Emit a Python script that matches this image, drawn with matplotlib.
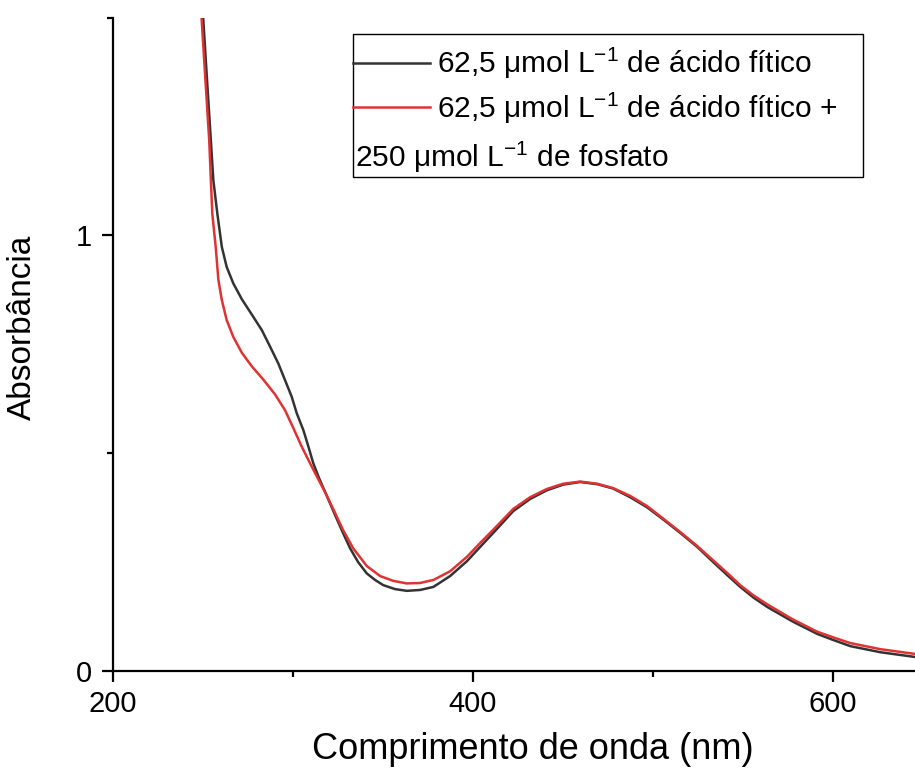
import matplotlib
matplotlib.use("Agg")
import matplotlib.pyplot as plt
from matplotlib.patches import Rectangle
from matplotlib.ticker import MultipleLocator

plt.rcParams['font.family'] = ['Liberation Sans', 'DejaVu Sans']
plt.rcParams['mathtext.fontset'] = 'custom'
plt.rcParams['mathtext.rm'] = 'Liberation Sans'
plt.rcParams['mathtext.it'] = 'Liberation Sans:italic'

# espectros UV-Vis: comprimento de onda (nm) e absorbância
nm_fitico = [249.3, 250.3, 251.7, 253.1, 254.5, 255.9, 258.1, 260.6, 263.3, 267.0,
             271.7, 277.2, 282.8, 287.4, 292.0, 295.7, 299.4, 302.2, 305.9, 308.7,
             311.4, 314.6, 318.5, 323.5, 327.9, 331.8, 336.3, 341.1, 345.7, 350.3,
             356.8, 363.3, 370.7, 378.1, 387.4, 396.7, 404.1, 412.9, 422.4, 431.8,
             441.1, 450.2, 459.6, 469.1, 477.9, 487.4, 496.7, 505.7, 515.2, 524.6,
             533.5, 541.3, 548.5, 555.7, 563.5, 577.4, 591.3, 600.2, 609.6, 626.3,
             645.7]
abs_fitico = [1.608, 1.496, 1.402, 1.310, 1.218, 1.126, 1.050, 0.973, 0.927, 0.889,
              0.853, 0.818, 0.782, 0.744, 0.705, 0.667, 0.629, 0.591, 0.552, 0.514,
              0.476, 0.442, 0.405, 0.357, 0.316, 0.281, 0.249, 0.223, 0.208, 0.196,
              0.187, 0.183, 0.185, 0.192, 0.217, 0.251, 0.284, 0.323, 0.366, 0.394,
              0.414, 0.427, 0.433, 0.428, 0.418, 0.398, 0.375, 0.347, 0.316, 0.284,
              0.249, 0.219, 0.192, 0.168, 0.146, 0.113, 0.084, 0.070, 0.056, 0.042,
              0.031]

nm_fosfato = [248.8, 249.4, 250.8, 252.2, 253.6, 254.3, 255.3, 257.2, 258.7, 260.6,
              263.3, 267.0, 271.7, 277.2, 283.7, 290.2, 295.7, 300.3, 305.0, 309.6,
              314.1, 318.5, 323.5, 327.9, 333.5, 341.1, 348.5, 355.7, 363.3, 370.7,
              378.1, 387.4, 396.7, 404.1, 412.9, 422.4, 431.8, 441.1, 450.2, 459.6,
              469.1, 477.9, 487.4, 496.7, 505.7, 515.2, 524.6, 533.5, 541.3, 548.5,
              555.7, 563.5, 577.4, 591.3, 600.2, 609.6, 626.3, 645.7]
abs_fosfato = [1.608, 1.496, 1.402, 1.310, 1.218, 1.149, 1.050, 0.973, 0.897, 0.851,
               0.805, 0.766, 0.730, 0.699, 0.668, 0.634, 0.598, 0.557, 0.514, 0.476,
               0.440, 0.405, 0.362, 0.323, 0.281, 0.240, 0.217, 0.206, 0.200, 0.201,
               0.208, 0.228, 0.261, 0.293, 0.330, 0.371, 0.398, 0.417, 0.429, 0.434,
               0.429, 0.419, 0.401, 0.378, 0.349, 0.318, 0.286, 0.253, 0.224, 0.196,
               0.173, 0.152, 0.118, 0.089, 0.076, 0.063, 0.049, 0.038]

rotulos = [r'62,5 μmol L$^{\mathregular{-1}}$ de ácido fítico',
           r'62,5 μmol L$^{\mathregular{-1}}$ de ácido fítico +',
           r'250 μmol L$^{\mathregular{-1}}$ de fosfato']
cores = ['#333333', '#e03232']

fig = plt.figure(figsize=(9.15, 7.71), dpi=100)
ax = fig.add_axes([112.7 / 915, (771 - 670.5) / 771, 810.3 / 915, 653 / 771])

ax.plot(nm_fitico, abs_fitico, color=cores[0], lw=1.8)
ax.plot(nm_fosfato, abs_fosfato, color=cores[1], lw=1.8)

ax.set_xlim(200, 650)
ax.set_ylim(0, 1.5)
ax.xaxis.set_major_locator(MultipleLocator(200))
ax.xaxis.set_minor_locator(MultipleLocator(100))
ax.yaxis.set_major_locator(MultipleLocator(1))
ax.yaxis.set_minor_locator(MultipleLocator(0.5))

for lado in ['top', 'right']:
    ax.spines[lado].set_visible(False)
for lado in ['left', 'bottom']:
    ax.spines[lado].set_linewidth(1.6)

ax.tick_params(which='major', direction='out', length=8, width=1.6,
               labelsize=21, pad=6)
ax.tick_params(which='minor', direction='out', length=4.5, width=1.6)
ax.tick_params(axis='y', which='major', pad=7)

ax.set_xlabel('Comprimento de onda (nm)', fontsize=26)
ax.set_ylabel('Absorbância', fontsize=24)
ax.xaxis.set_label_coords(0.519, -0.094)
ax.yaxis.set_label_coords(-0.092, 0.526)

# legenda montada à mão: a segunda entrada quebra até a borda da caixa
ax.add_patch(Rectangle((0.2966, 0.7557), 0.6294, 0.219, transform=ax.transAxes,
                       fill=False, edgecolor='black', lw=1.0, clip_on=False))
ax.plot([0.2966, 0.3916], [0.930, 0.930], color=cores[0], lw=1.8,
        transform=ax.transAxes, clip_on=False)
ax.plot([0.2966, 0.3916], [0.863, 0.863], color=cores[1], lw=1.8,
        transform=ax.transAxes, clip_on=False)
ax.text(0.4002, 0.915, rotulos[0], transform=ax.transAxes, fontsize=21.5, va='baseline')
ax.text(0.4002, 0.846, rotulos[1], transform=ax.transAxes, fontsize=21.5, va='baseline')
ax.text(0.2995, 0.771, rotulos[2], transform=ax.transAxes, fontsize=21.5, va='baseline')

fig.savefig('out.png', dpi=100)
